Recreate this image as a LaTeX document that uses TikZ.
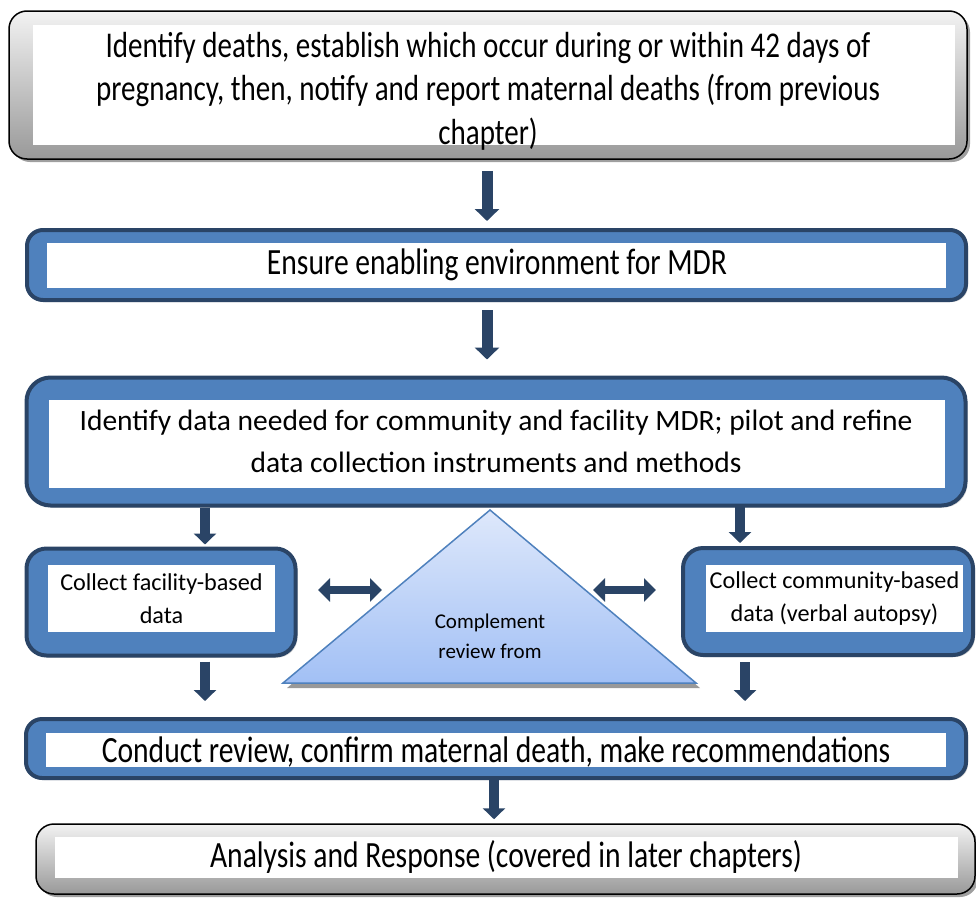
\documentclass[tikz,border=0pt]{standalone}
\usepackage{fontspec}
\setmainfont{Carlito}
\newfontfamily\narrowfont[FakeStretch=0.8]{Carlito}
\usetikzlibrary{arrows.meta,shadows,calc}
\definecolor{mdblue}{HTML}{4F81BD}
\definecolor{mddark}{HTML}{2A4466}
\definecolor{tritop}{HTML}{DEE8FB}
\definecolor{tribot}{HTML}{A2C0F5}
\begin{document}
\begin{tikzpicture}[x=1pt,y=-1pt,
  bluebox/.style={draw=mddark, line width=4pt, fill=mdblue, rounded corners=16pt, inner sep=0pt,
    drop shadow={shadow xshift=2pt, shadow yshift=-2pt, fill=black!35}},
  graybox/.style={draw=black, line width=1.5pt, top color=black!5, bottom color=black!40,
    rounded corners=18pt, inner sep=0pt,
    drop shadow={shadow xshift=3pt, shadow yshift=-3pt, fill=black!75}},
  whitebox/.style={fill=white, draw=none, inner sep=0pt},
  txt/.style={inner sep=0pt, align=center},
  bigtxt/.style={txt, font=\narrowfont\fontsize{37}{44}\selectfont},
  toptxt/.style={txt, font=\narrowfont\fontsize{36.3}{43.5}\selectfont},
  midtxt/.style={txt, font=\fontsize{29.5}{42}\selectfont},
  smalltxt/.style={txt, font=\fontsize{24.2}{33}\selectfont},
  flowarrow/.style={draw=mddark, line width=11pt, -{Triangle[width=24pt,length=12pt]}},
  sidearrow/.style={draw=mddark, line width=8pt,
    {Triangle[width=23pt,length=12pt]}-{Triangle[width=23pt,length=12pt]}},
]
\useasboundingbox (0,0) rectangle (976,897);

% box 1
\node[graybox, minimum width=958pt, minimum height=148pt] (b1) at (488,85) {};
\node[whitebox, minimum width=922pt, minimum height=120pt] (w1) at (494,85) {};
\node[toptxt] (t1) at (488,91) {Identify deaths, establish which occur during or within 42 days of\\
pregnancy, then, notify and report maternal deaths (from previous\\chapter)};

% box 2
\node[bluebox, minimum width=939pt, minimum height=70pt] (b2) at (496.5,265) {};
\node[whitebox, minimum width=899pt, minimum height=45pt] (w2) at (496.5,265.5) {};
\node[bigtxt] (t2) at (497,265) {Ensure enabling environment for MDR};

% box 3
\node[bluebox, minimum width=939pt, minimum height=128pt, rounded corners=24pt] (b3) at (496,441.5) {};
\node[whitebox, minimum width=896pt, minimum height=88pt] (w3) at (497,444) {};
\node[midtxt] (t3) at (496,441) {Identify data needed for community and facility MDR; pilot and refine\\data collection instruments and methods};

% left box
\node[bluebox, minimum width=269pt, minimum height=107pt, rounded corners=20pt] (lb) at (161,602) {};
\node[whitebox, minimum width=227pt, minimum height=67pt] (lw) at (161.5,598.5) {};
\node[smalltxt] (lt) at (161.5,599) {Collect facility-based\\data};

% right box
\node[bluebox, minimum width=290pt, minimum height=107pt, rounded corners=20pt] (rb) at (828,601.5) {};
\node[whitebox, minimum width=257pt, minimum height=67pt] (rw) at (834.5,598.5) {};
\node[smalltxt] (rt) at (834.5,599) {Collect community-based\\data (verbal autopsy)};

% triangle
\fill[black!40] (494,514) -- (700,688) -- (287,688) -- cycle;
\path[top color=tritop, bottom color=tribot] (490,510) -- (696,683) -- (283,683) -- cycle;
\draw[mdblue, line width=1.5pt, line join=miter] (490,510) -- (696,683) -- (283,683) -- cycle;
\node[txt, font=\fontsize{21}{30}\selectfont] (tri) at (490,636) {Complement\\review from};

% box 5
\node[bluebox, minimum width=940pt, minimum height=59pt] (b5) at (496,748.5) {};
\node[whitebox, minimum width=900pt, minimum height=34pt] (w5) at (496,750) {};
\node[bigtxt] (t5) at (496,752) {Conduct review, confirm maternal death, make recommendations};

% box 6
\node[graybox, minimum width=939pt, minimum height=70pt] (b6) at (505.5,859) {};
\node[whitebox, minimum width=903pt, minimum height=41pt] (w6) at (506.5,857.5) {};
\node[bigtxt] (t6) at (506,857) {Analysis and Response (covered in later chapters)};

% x positions for connectors
\coordinate (xa) at (487,0);
\coordinate (xl) at (205,0);
\coordinate (xr) at (740,0);
\coordinate (xr2) at (745,0);
\coordinate (xb) at (494,0);
\coordinate (d1a) at (318,590);
\coordinate (d1b) at (382,590);
\coordinate (d2a) at (593,590);
\coordinate (d2b) at (656,590);

\draw[flowarrow, shorten <=11pt, shorten >=7pt] (b1.south -| xa) -- (b2.north -| xa);
\draw[flowarrow, shorten <=8pt, shorten >=16pt] (b2.south -| xa) -- (b3.north -| xa);
\draw[flowarrow, line width=10pt, -{Triangle[width=22pt,length=11pt]}, shorten <=0pt, shorten >=2pt] (b3.south -| xl) -- (lb.north -| xl);
\draw[flowarrow, line width=10pt, -{Triangle[width=22pt,length=11pt]}, shorten <=-2pt, shorten >=3pt] (b3.south -| xr) -- (rb.north -| xr);
\draw[flowarrow, line width=10pt, -{Triangle[width=22pt,length=11pt]}, shorten <=4pt, shorten >=16pt] (lb.south -| xl) -- (b5.north -| xl);
\draw[flowarrow, line width=10pt, -{Triangle[width=22pt,length=11pt]}, shorten <=5pt, shorten >=16pt] (rb.south -| xr2) -- (b5.north -| xr2);
\draw[flowarrow, line width=10pt, -{Triangle[width=22pt,length=11pt]}, shorten <=0pt, shorten >=4pt] (b5.south -| xb) -- (b6.north -| xb);
\draw[sidearrow] (d1a) -- (d1b);
\draw[sidearrow] (d2a) -- (d2b);
\end{tikzpicture}
\end{document}
